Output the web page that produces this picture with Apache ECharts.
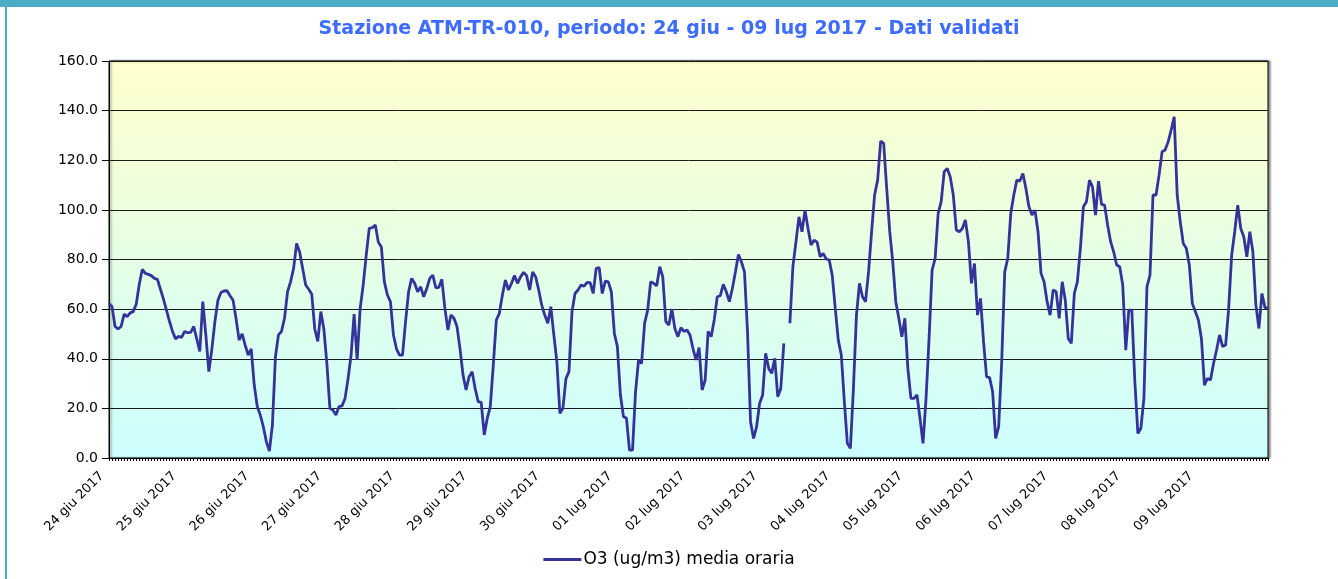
<!DOCTYPE html>
<html>
<head>
<meta charset="utf-8">
<script src="https://cdn.jsdelivr.net/npm/echarts@6/dist/echarts.min.js"></script>
<style>
html,body{margin:0;padding:0;background:#fff}
#main{width:1338px;height:579px}
</style>
</head>
<body>
<div id="main"></div>
<script>
// giorni sull'asse x (una etichetta ogni 24 ore)
var days = ['24 giu 2017','25 giu 2017','26 giu 2017','27 giu 2017','28 giu 2017','29 giu 2017',
  '30 giu 2017','01 lug 2017','02 lug 2017','03 lug 2017','04 lug 2017','05 lug 2017',
  '06 lug 2017','07 lug 2017','08 lug 2017','09 lug 2017']

var yTicks = [0, 20, 40, 60, 80, 100, 120, 140, 160]

// O3 (ug/m3) media oraria, un valore per ora (null = dato mancante)
var o3 = [
  62.3, 61, 53, 52, 53, 58, 57, 58.5, 59, 62, 70, 76, 74.4, 74, 73.5, 72.4, 72, 68, 64, 59.6, 55, 51, 48, 49,
  48.6, 51, 50.5, 50.6, 53, 48, 43, 63, 49.6, 34.8, 44, 55, 63.6, 66.7, 67.3, 67.4, 65.4, 63.6, 56, 47.5, 50, 45.5, 41.5, 44,
  29.4, 20.7, 17.3, 12.6, 6.6, 2.8, 13.3, 40.8, 49.6, 51, 56.3, 67, 71, 76.4, 86.5, 83, 76.4, 69.7, 68, 66, 52, 47, 59, 52,
  38, 20, 19.3, 17.3, 20.7, 21, 24, 32, 41.5, 58, 39.5, 60.3, 69.7, 81.8, 92.5, 92.8, 93.9, 87, 85, 71, 65.7, 63, 49.6, 44,
  41.5, 41.5, 55, 67, 72.4, 70.4, 67, 69, 65, 68.3, 72.4, 73.7, 68.6, 68.8, 72, 60.3, 51.6, 57.6, 56.3, 53, 44, 33.4, 27.4, 32.8,
  34.8, 28, 22.7, 22.4, 9.3, 16, 20.7, 37.5, 55.6, 58.3, 65.7, 71.7, 67.7, 70.4, 73.5, 70.4, 73, 74.8, 73.5, 67.7, 75, 73, 67.7, 61.6,
  57.6, 54.3, 61, 49.6, 38.8, 18, 20, 32, 34.8, 59, 66.3, 67.7, 69.7, 69.3, 70.8, 70.7, 66.3, 76.4, 76.7, 66.3, 71.3, 71, 67, 50.2,
  44.9, 25.4, 16.7, 16, 3.2, 3.2, 26.7, 39.5, 38.1, 54.3, 59.6, 71, 70.4, 69.4, 77.1, 73, 55, 53.6, 60, 52.2, 48.9, 52.5, 51, 51.6,
  49.6, 44, 39.5, 44.5, 27.4, 31.4, 51, 48.9, 55.6, 65, 65.4, 70, 67, 63, 68.3, 75, 82, 79, 75, 51, 14.6, 7.9, 12.6, 22,
  25.4, 42.2, 36.1, 34.1, 40.2, 24.7, 28, 46.2, null, 54.3, 77.1, 87, 97.2, 91.2, 99.9, 92.5, 85.8, 87.8, 87, 81.1, 82.5, 80.2, 79.8, 73.7,
  60.3, 47.5, 41.5, 22.7, 5.9, 3.9, 28, 57.6, 70.4, 65, 63, 75, 91, 106, 112, 127.7, 126.8, 108.6, 91.2, 79, 63, 56.3, 48.9, 56.3,
  36, 24, 24, 25.4, 16, 5.9, 24, 48.2, 75.7, 80.4, 98.6, 103.3, 115.4, 116.7, 113.3, 106, 91.9, 91.2, 92.5, 95.9, 87.2, 70.4, 78.4, 57.6,
  64.3, 46.9, 32.8, 32.4, 26.7, 7.9, 12.6, 38.8, 75, 80.4, 98.6, 106, 112, 111.6, 114.7, 108.6, 101.3, 97.9, 99.9, 91.2, 74.4, 71, 63, 57.6,
  67.7, 67, 56.3, 71, 63.7, 48.2, 46.2, 66.3, 71, 84.5, 101.3, 103.3, 112, 109.3, 97.9, 111.6, 102.2, 101.9, 93.9, 87.2, 83.1, 77.8, 77.1, 69.7,
  43.5, 59.6, 59.6, 30.8, 9.9, 12, 24, 69, 73.7, 106, 106, 114, 123.4, 124.1, 127.4, 132.2, 137.5, 106, 95.2, 86.5, 84.5, 77.8, 62.3, 59,
  55.6, 48.2, 29.4, 32.1, 31.4, 38.1, 43.5, 49.6, 44.9, 45.5, 60.3, 81.8, 91.2, 101.9, 92.5, 89.2, 81.1, 91.2, 83.1, 61.6, 52.2, 66.3, 60.6, 60.4
]

var hours = []
days.forEach(function (d) {
  for (var h = 0; h < 24; h++) hours.push(d + ' ' + (h < 10 ? '0' + h : h) + ':00')
})

var font = 'DejaVu Sans'
var chart = echarts.init(document.getElementById('main'))
var option = {
  animation: false,
  title: {
    text: 'Stazione ATM-TR-010, periodo: 24 giu - 09 lug 2017 - Dati validati',
    left: 'center',
    top: 15,
    textStyle: { color: '#3d6cff', fontSize: 19, fontWeight: 'bold', fontFamily: font }
  },
  legend: {
    top: 546,
    left: 'center',
    icon: 'rect',
    itemWidth: 38,
    itemHeight: 3,
    textStyle: { color: '#000', fontSize: 17, fontFamily: font, padding: [0, 0, 0, -3] },
    data: ['O3 (ug/m3) media oraria']
  },
  grid: {
    left: 109, right: 70, top: 61, bottom: 121,
    show: true,
    borderColor: '#000',
    borderWidth: 1,
    shadowColor: 'rgba(0,0,0,0.45)',
    shadowOffsetX: 2,
    shadowOffsetY: 0,
    shadowBlur: 2,
    backgroundColor: new echarts.graphic.LinearGradient(0, 0, 0, 1, [
      { offset: 0, color: '#ffffcc' },
      { offset: 1, color: '#ccffff' }
    ])
  },
  xAxis: {
    type: 'category',
    data: hours,
    boundaryGap: false,
    axisLine: { lineStyle: { color: '#000', width: 1 } },
    axisTick: { show: true, interval: 0, length: 3, lineStyle: { color: '#000' } },
    axisLabel: {
      interval: function (i) { return i % 24 === 0 },
      formatter: function (v) { return v.slice(0, 11) },
      rotate: 45,
      margin: 9,
      padding: [0, 10, 0, 0],
      color: '#000',
      fontSize: 13,
      fontFamily: font
    },
    splitLine: { show: false }
  },
  yAxis: {
    type: 'value',
    min: yTicks[0],
    max: yTicks[yTicks.length - 1],
    interval: 20,
    axisLine: { show: true, lineStyle: { color: '#000' } },
    axisTick: { show: true, length: 7, lineStyle: { color: '#000' } },
    axisLabel: {
      formatter: function (v) { return v.toFixed(1) },
      color: '#000',
      fontSize: 14,
      fontFamily: font,
      margin: 11
    },
    splitLine: { show: true, lineStyle: { color: '#1a1a1a', width: 1 } }
  },
  graphic: [
    { type: 'rect', shape: { x: 0, y: 0, width: 1338, height: 7 }, style: { fill: '#4bacc6' } },
    { type: 'rect', shape: { x: 5, y: 0, width: 2, height: 579 }, style: { fill: '#4bacc6' } }
  ],
  series: [{
    name: 'O3 (ug/m3) media oraria',
    type: 'line',
    data: o3,
    showSymbol: false,
    connectNulls: false,
    itemStyle: { color: '#333399' },
    lineStyle: { color: '#333399', width: 2.8 }
  }]
}
chart.setOption(option)
</script>
</body>
</html>
